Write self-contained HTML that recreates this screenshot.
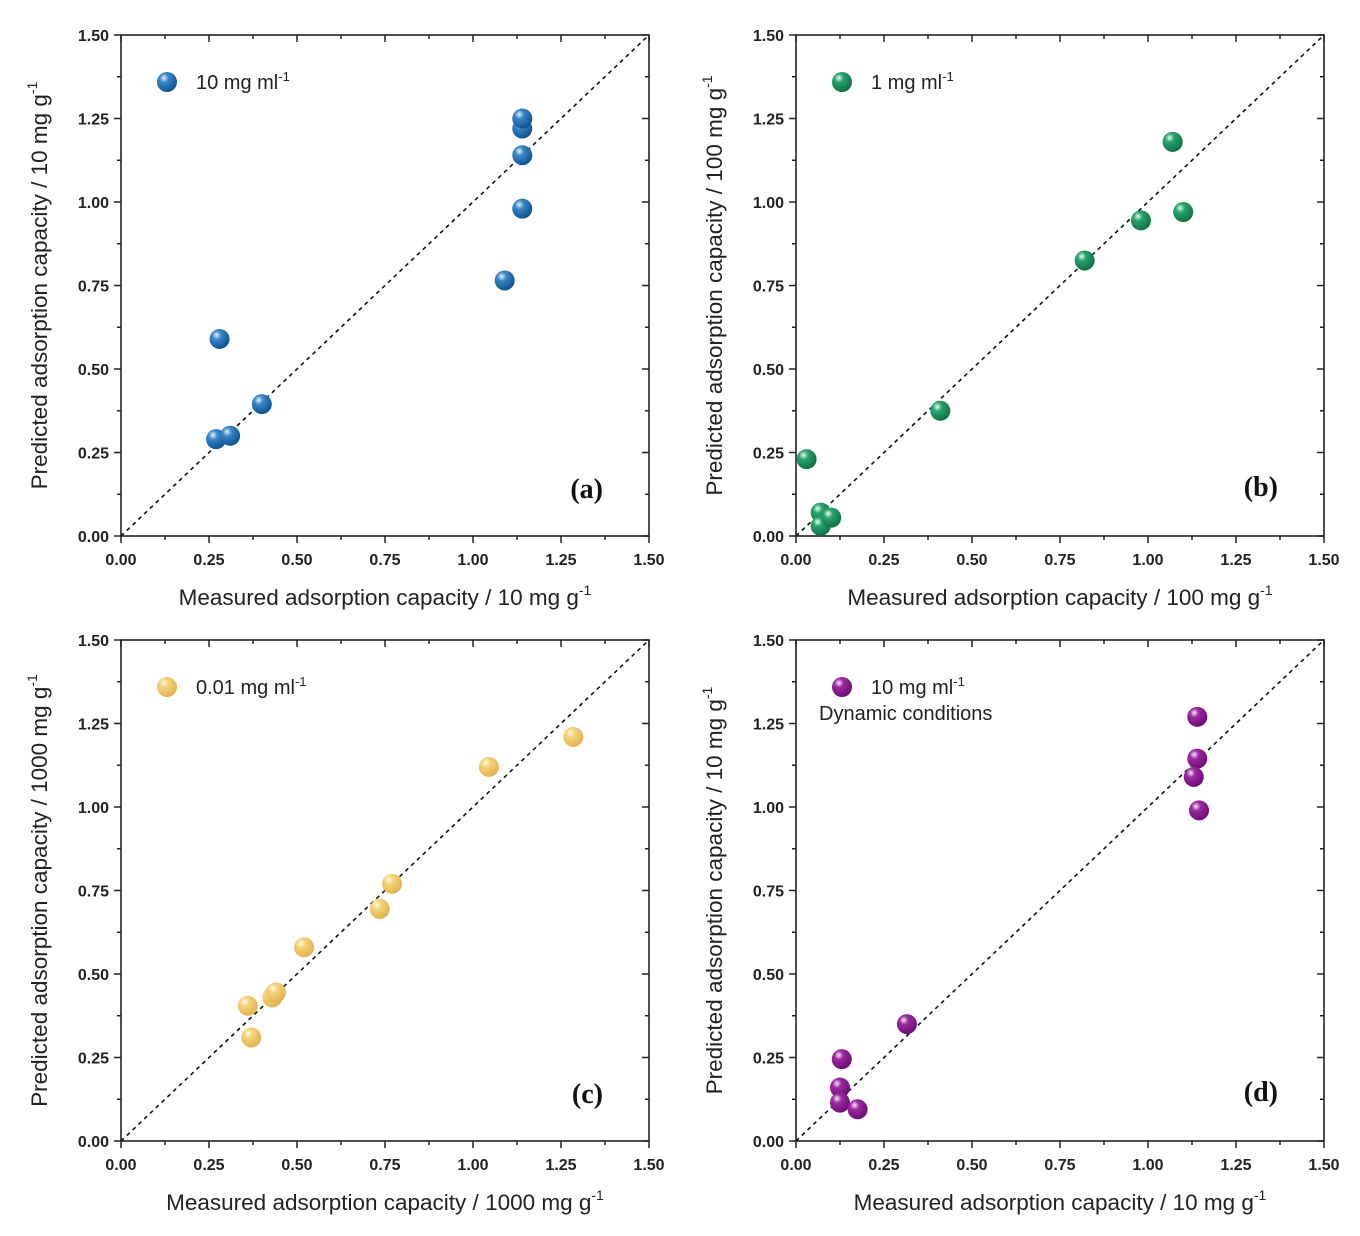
<!DOCTYPE html>
<html><head><meta charset="utf-8"><style>
html,body{margin:0;padding:0;background:#fff;}
svg{display:block;font-family:"Liberation Sans",Arial,sans-serif;}
</style></head><body>
<svg id="chart" width="1360" height="1236" viewBox="0 0 1360 1236" xmlns="http://www.w3.org/2000/svg">
<defs>
<radialGradient id="g-blue" cx="0.35" cy="0.3" r="0.75"><stop offset="0" stop-color="#e8f2ff"/><stop offset="0.3" stop-color="#3a86c8"/><stop offset="1" stop-color="#0b4f8e"/></radialGradient>
<radialGradient id="g-green" cx="0.35" cy="0.3" r="0.75"><stop offset="0" stop-color="#e6fff2"/><stop offset="0.3" stop-color="#2aa36e"/><stop offset="1" stop-color="#0d6e43"/></radialGradient>
<radialGradient id="g-yellow" cx="0.35" cy="0.3" r="0.75"><stop offset="0" stop-color="#fffbea"/><stop offset="0.3" stop-color="#f5d27a"/><stop offset="1" stop-color="#e0b04a"/></radialGradient>
<radialGradient id="g-purple" cx="0.35" cy="0.3" r="0.75"><stop offset="0" stop-color="#fbe6fb"/><stop offset="0.3" stop-color="#9a2aa0"/><stop offset="1" stop-color="#6a0a72"/></radialGradient>
</defs>
</svg>
<script>
const ticks = [0, 0.25, 0.5, 0.75, 1.0, 1.25, 1.5];
const tickLabels = ["0.00","0.25","0.50","0.75","1.00","1.25","1.50"];
const aX = [0.27,0.31,0.40,0.28,1.09,1.14,1.14,1.14,1.14];
const aY = [0.29,0.30,0.395,0.59,0.765,0.98,1.14,1.22,1.25];
const bX = [0.03,0.07,0.07,0.10,0.41,0.82,0.98,1.07,1.10];
const bY = [0.23,0.07,0.03,0.055,0.375,0.825,0.945,1.18,0.97];
const cX = [0.36,0.37,0.43,0.44,0.52,0.735,0.77,1.045,1.285];
const cY = [0.405,0.31,0.43,0.445,0.58,0.695,0.77,1.12,1.21];
const dX = [0.13,0.125,0.125,0.175,0.315,1.14,1.14,1.13,1.145];
const dY = [0.245,0.16,0.115,0.095,0.35,1.27,1.145,1.09,0.99];

const panels = [
 {id:'a', L:121, T:35, xs:aX, ys:aY, grad:'g-blue', leg:'10 mg ml', leg2:null, xt:'Measured adsorption capacity / 10 mg g', yt:'Predicted adsorption capacity / 10 mg g', lab:'(a)', labY:498},
 {id:'b', L:796, T:35, xs:bX, ys:bY, grad:'g-green', leg:'1 mg ml', leg2:null, xt:'Measured adsorption capacity / 100 mg g', yt:'Predicted adsorption capacity / 100 mg g', lab:'(b)', labY:496},
 {id:'c', L:121, T:640, xs:cX, ys:cY, grad:'g-yellow', leg:'0.01 mg ml', leg2:null, xt:'Measured adsorption capacity / 1000 mg g', yt:'Predicted adsorption capacity / 1000 mg g', lab:'(c)', labY:1103},
 {id:'d', L:796, T:640, xs:dX, ys:dY, grad:'g-purple', leg:'10 mg ml', leg2:'Dynamic conditions', xt:'Measured adsorption capacity / 10 mg g', yt:'Predicted adsorption capacity / 10 mg g', lab:'(d)', labY:1101}
];
const W = 528, H = 501, MAX = 1.5;
const svg = document.getElementById('chart');
const NS = 'http://www.w3.org/2000/svg';
function mk(tag, attrs, parent){ const e=document.createElementNS(NS,tag); for(const k in attrs) e.setAttribute(k,attrs[k]); parent.appendChild(e); return e; }

panels.forEach(p=>{
  const sx = v => p.L + v/MAX*W;
  const sy = v => p.T + H - v/MAX*H;
  const g = mk('g',{},svg);
  
  
  const frame = mk('rect',{x:p.L,y:p.T,width:W,height:H,fill:'none',stroke:'#222','stroke-width':1.6},g);
  
  
  for(let i=0;i<=12;i++){
    const v=i*0.125, major=i%2===0, len=major?7:4;
    const x=sx(v), y=sy(v);
    mk('line',{x1:x,y1:p.T+H,x2:x,y2:p.T+H+len,stroke:'#222','stroke-width':1.5},g);
    mk('line',{x1:x,y1:p.T,x2:x,y2:p.T+len,stroke:'#222','stroke-width':1.5},g);
    mk('line',{x1:p.L,y1:y,x2:p.L-len,y2:y,stroke:'#222','stroke-width':1.5},g);
    mk('line',{x1:p.L+W,y1:y,x2:p.L+W-len,y2:y,stroke:'#222','stroke-width':1.5},g);
  }
  ticks.forEach((v,i)=>{
    const tx = mk('text',{x:sx(v),y:p.T+H+29,'text-anchor':'middle','font-size':16,'font-weight':'bold',fill:'#222'},g);
    tx.textContent = tickLabels[i];
    
    
    const ty = mk('text',{x:p.L-12,y:sy(v)+6,'text-anchor':'end','font-size':16,'font-weight':'bold',fill:'#222'},g);
    ty.textContent = tickLabels[i];
    
    
  });
  const diag = mk('line',{x1:sx(0),y1:sy(0),x2:sx(MAX),y2:sy(MAX),stroke:'#111','stroke-width':1.6,'stroke-dasharray':'4,4'},g);
  
  
  p.xs.forEach((xv,i)=>{
    const c = mk('circle',{cx:sx(xv),cy:sy(p.ys[i]),r:10,fill:'url(#'+p.grad+')'},g);
    
    
  });
  const lm = mk('circle',{cx:p.L+46,cy:p.T+47,r:10,fill:'url(#'+p.grad+')'},g);
  
  
  const lt = mk('text',{x:p.L+75,y:p.T+54,'font-size':20,fill:'#222'},g);
  
  
  lt.appendChild(document.createTextNode(p.leg));
  const sup = mk('tspan',{dy:-8,'font-size':13},lt); sup.textContent='-1';
  if(p.leg2){
    const l2 = mk('text',{x:p.L+23,y:p.T+80,'font-size':20,fill:'#222'},g);
    l2.textContent=p.leg2;
    
    
  }
  const pl = mk('text',{x:p.L+W-46,y:p.labY,'text-anchor':'end','font-size':28,'font-weight':'bold','font-family':'"Liberation Serif",serif',fill:'#111'},g);
  pl.textContent=p.lab;
  
  
  const xt = mk('text',{x:p.L+W/2,y:p.T+H+69,'text-anchor':'middle','font-size':22.5,fill:'#222'},g);
  
  
  xt.appendChild(document.createTextNode(p.xt));
  const xs = mk('tspan',{dy:-10,'font-size':14},xt); xs.textContent='-1';
  const cx = p.L-74, cy = p.T+H/2;
  const yt = mk('text',{x:cx,y:cy,'text-anchor':'middle','font-size':22.5,fill:'#222',transform:'rotate(-90 '+cx+' '+cy+')'},g);
  
  
  yt.appendChild(document.createTextNode(p.yt));
  const ys = mk('tspan',{dy:-10,'font-size':14},yt); ys.textContent='-1';
});
</script>
</body></html>
